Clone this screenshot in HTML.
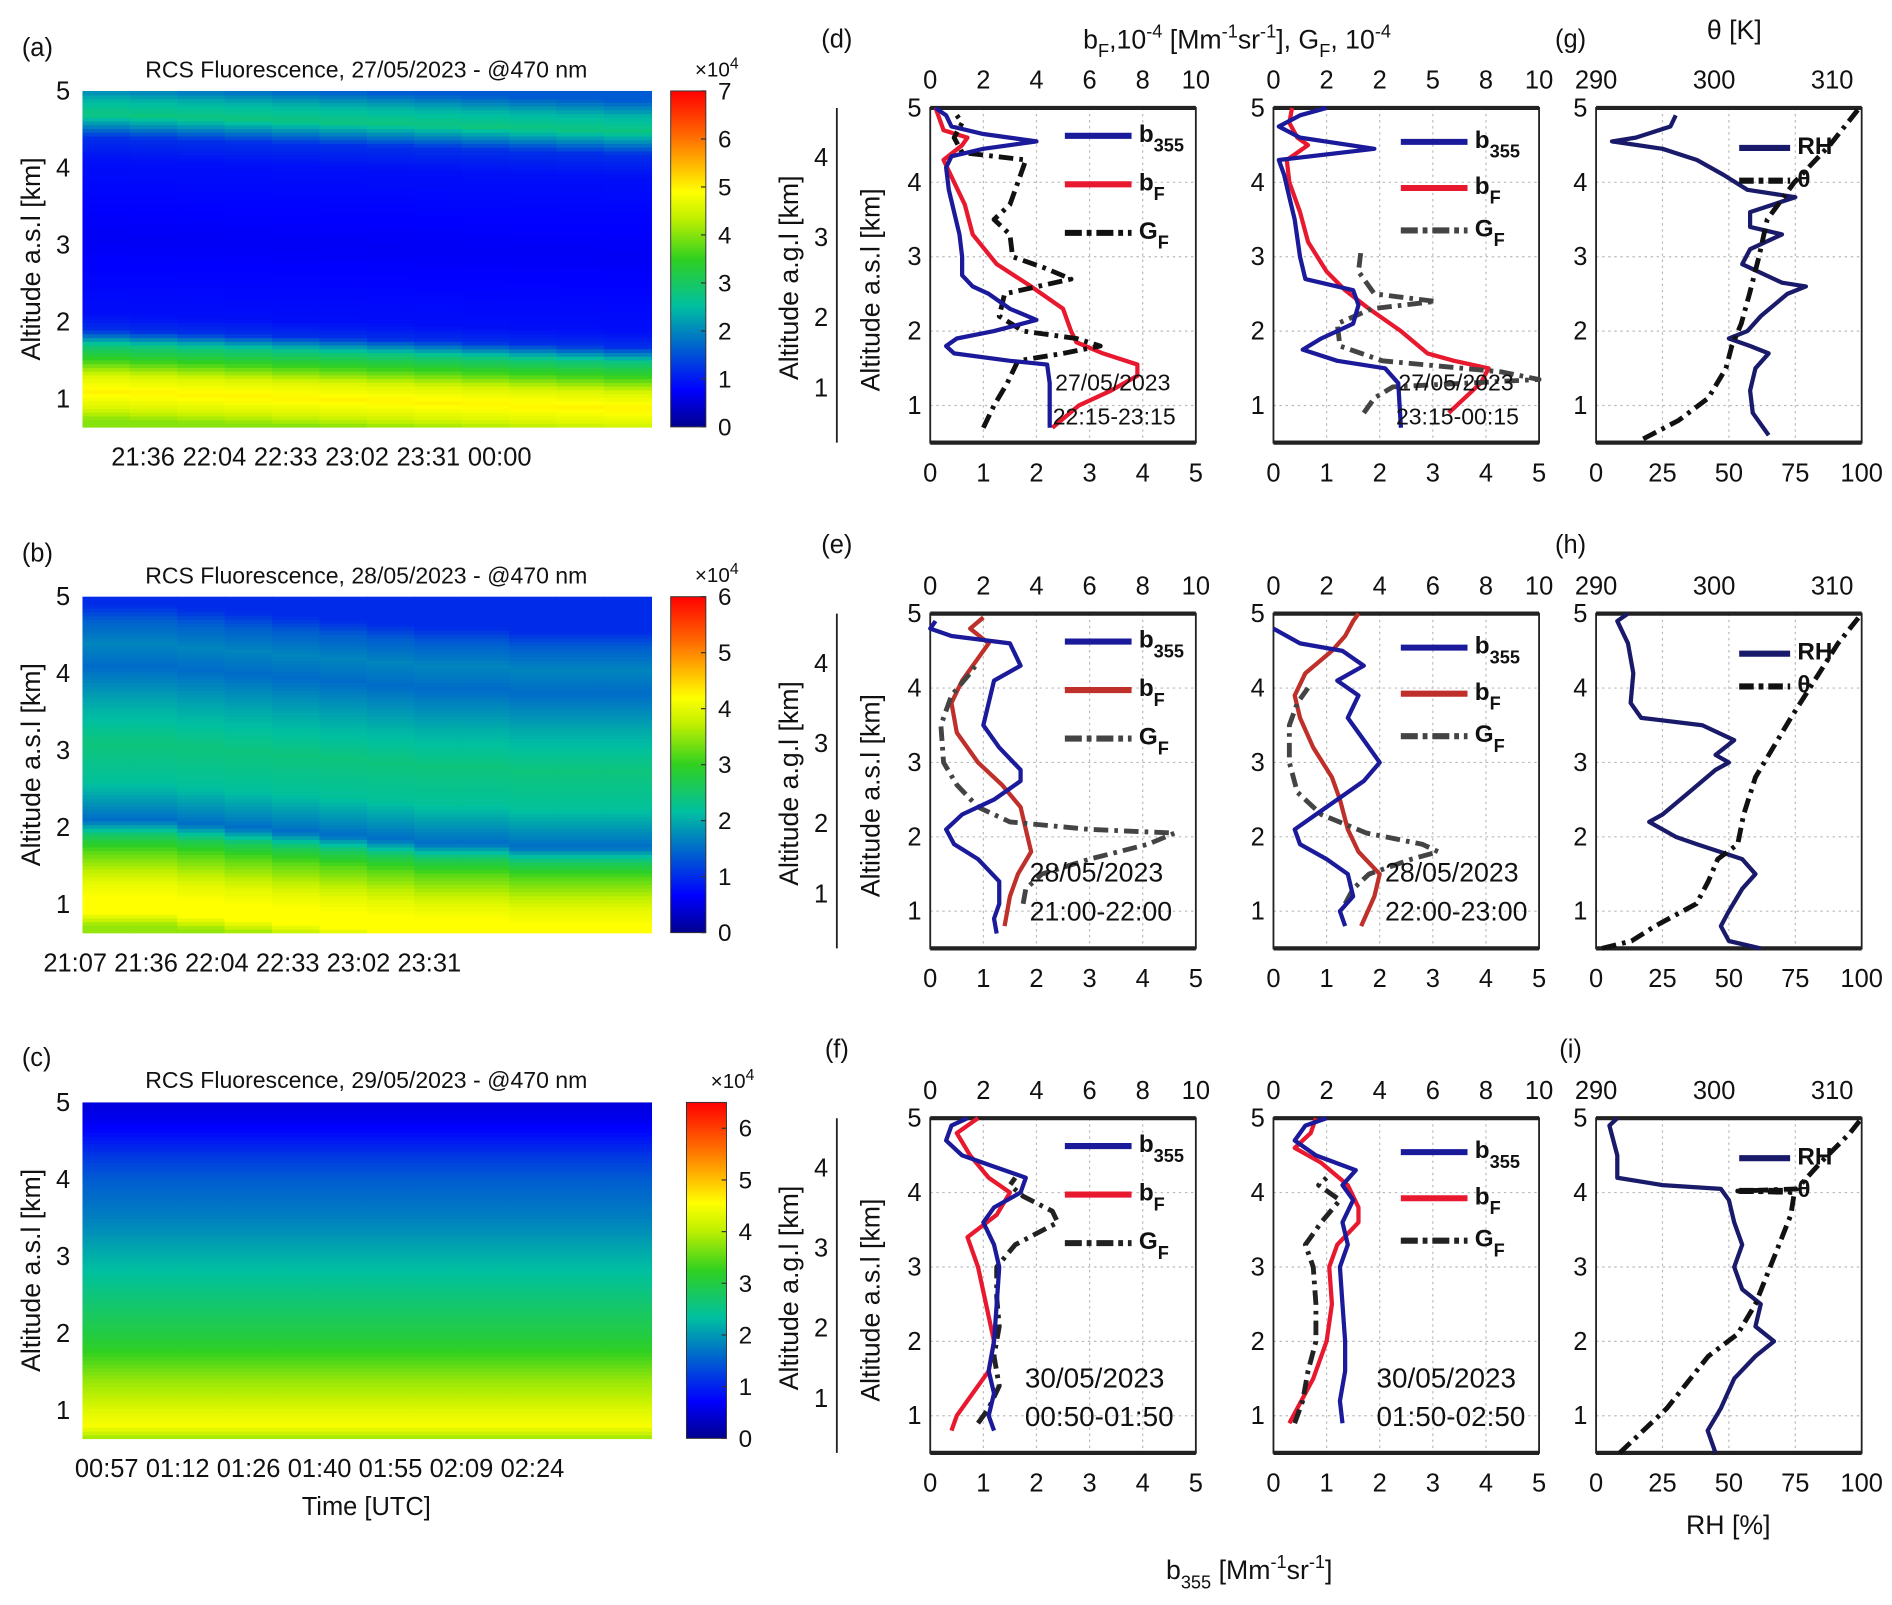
<!DOCTYPE html>
<html><head><meta charset="utf-8">
<style>
html,body{margin:0;padding:0;background:#fff;}
svg{display:block;font-family:"Liberation Sans Narrow","Liberation Sans",sans-serif;}
</style></head>
<body>
<svg id="fig" xmlns="http://www.w3.org/2000/svg" width="1892" height="1605" viewBox="0 0 1560 1323.4" preserveAspectRatio="none">
<defs>
<linearGradient id="jet" x1="0" y1="1" x2="0" y2="0">
<stop offset="0" stop-color="#00008f"/><stop offset="0.11" stop-color="#0000ff"/>
<stop offset="0.36" stop-color="#00c0a0"/><stop offset="0.5" stop-color="#30d020"/>
<stop offset="0.62" stop-color="#c0f000"/><stop offset="0.7" stop-color="#ffff00"/>
<stop offset="0.86" stop-color="#ff7000"/><stop offset="1" stop-color="#ff0000"/>
</linearGradient>
</defs>
</svg>
<script>
// ---------- heatmap data ----------
const hmAlt = [0.64,0.8,1.0,1.2,1.4,1.6,1.8,2.0,2.5,3.0,3.5,4.0,4.3,4.6,4.8,5.0];
const hmA = [4.0,4.6,5.0,4.6,3.6,2.8,1.2,0.9,0.8,0.7,0.8,0.9,1.2,2.8,2.4,1.6];
const hmB = [3.5,4.2,4.2,4.0,3.6,3.2,2.6,1.5,2.2,2.4,2.0,1.5,1.7,1.4,1.0,1.0];
const hmC = [3.8,4.5,4.3,4.0,3.8,3.5,3.2,3.0,2.6,2.2,1.8,1.5,1.2,0.8,0.6,0.5];
const hmShiftA = [0.1,0.08,0.06,0.04,0.02,0,-0.02,-0.04,-0.06,-0.08,-0.1,-0.12];
const hmShiftB = [0.1,0.1,0.05,0,-0.05,-0.1,-0.15,-0.2,-0.2,-0.25,-0.25,-0.25];
const hmShiftC = [0,0,0,0,0,0,0,0,0,0,0,0];
const ticksA = ['21:36','22:04','22:33','23:02','23:31','00:00'];
const ticksB = ['21:07','21:36','22:04','22:33','23:02','23:31'];
const ticksC = ['00:57','01:12','01:26','01:40','01:55','02:09','02:24'];

// ---------- profile data [altitude km, value] ----------
const d1_b355=[[0.7,2.25],[1.0,2.25],[1.3,2.25],[1.55,2.2],[1.6,1.5],[1.7,0.45],[1.8,0.3],[1.9,0.5],[2.0,1.2],[2.15,2.0],[2.3,1.5],[2.5,1.1],[2.6,0.8],[2.75,0.6],[3.0,0.6],[3.3,0.55],[3.6,0.45],[3.9,0.35],[4.2,0.3],[4.35,0.4],[4.45,1.0],[4.55,2.0],[4.65,1.0],[4.75,0.4],[4.9,0.3],[5.0,0.1]];
const d1_bF=[[0.7,4.6],[1.0,5.6],[1.2,6.8],[1.4,7.8],[1.55,7.8],[1.7,6.5],[1.85,5.5],[2.0,5.3],[2.3,5.0],[2.6,3.8],[2.9,2.5],[3.3,1.6],[3.7,1.3],[4.0,0.9],[4.3,0.5],[4.5,1.2],[4.6,1.4],[4.7,0.5],[4.9,0.3],[5.0,0.2]];
const d1_GF=[[0.7,2.0],[1.0,2.4],[1.3,2.9],[1.6,3.3],[1.7,5.0],[1.8,6.4],[1.9,5.5],[2.0,3.5],[2.2,2.6],[2.5,2.8],[2.7,5.3],[2.85,4.3],[3.0,3.1],[3.3,3.0],[3.5,2.4],[3.7,3.0],[4.0,3.3],[4.3,3.6],[4.4,1.2],[4.6,0.9],[4.8,1.2],[4.9,1.0]];
const d2_b355=[[0.7,2.4],[1.3,2.35],[1.5,2.1],[1.6,1.2],[1.75,0.55],[1.9,0.9],[2.1,1.5],[2.35,1.6],[2.55,1.5],[2.7,0.6],[3.0,0.5],[3.5,0.4],[3.8,0.3],[4.1,0.2],[4.3,0.1],[4.45,1.9],[4.6,0.5],[4.75,0.1],[4.9,0.5],[5.0,1.0]];
const d2_bF=[[0.9,6.6],[1.3,7.8],[1.5,8.1],[1.6,6.8],[1.7,5.8],[2.0,4.8],[2.3,3.6],[2.55,2.7],[2.8,2.0],[3.2,1.3],[3.6,1.0],[4.0,0.6],[4.3,0.5],[4.5,1.3],[4.6,0.9],[4.8,0.6],[5.0,0.7]];
const d2_GF=[[0.9,3.4],[1.1,3.8],[1.25,4.5],[1.35,10],[1.45,8.6],[1.6,4.1],[1.8,2.5],[2.1,2.4],[2.3,3.7],[2.4,6.1],[2.5,3.8],[2.8,3.2],[3.1,3.3]];
const g_RH=[[0.6,65],[0.9,59],[1.2,58],[1.5,60],[1.7,65],[1.8,58],[1.9,50],[2.0,57],[2.2,62],[2.5,72],[2.6,79],[2.65,70],[2.9,55],[3.1,58],[3.3,70],[3.4,58],[3.6,58],[3.8,75],[3.9,57],[4.1,48],[4.3,38],[4.45,25],[4.55,6],[4.6,15],[4.75,28],[4.9,30]];
const g_th=[[0.55,294],[0.8,297],[1.1,299.5],[1.5,301],[1.8,301.5],[2.1,302.3],[2.5,303],[3.0,303.8],[3.5,304.5],[4.0,306.8],[4.5,309.8],[5.0,312.3]];
const e1_b355=[[0.7,1.25],[0.9,1.2],[1.1,1.3],[1.4,1.3],[1.55,1.1],[1.7,0.9],[1.9,0.45],[2.1,0.3],[2.3,0.6],[2.5,1.2],[2.75,1.7],[2.9,1.7],[3.2,1.3],[3.5,1.0],[3.8,1.1],[4.1,1.2],[4.3,1.7],[4.6,1.5],[4.7,0.4],[4.8,0.0],[4.9,0.1]];
const e1_bF=[[0.8,2.8],[1.2,3.0],[1.5,3.3],[1.8,3.8],[2.1,3.6],[2.4,3.4],[2.7,2.7],[3.0,1.8],[3.4,1.0],[3.8,0.8],[4.1,1.2],[4.4,1.8],[4.6,2.2],[4.8,1.5],[4.95,2.0]];
const e1_GF=[[1.1,3.5],[1.3,3.6],[1.5,4.2],[1.7,6.0],[1.9,8.2],[2.05,9.2],[2.1,6.0],[2.2,3.0],[2.4,1.8],[2.7,1.0],[3.0,0.5],[3.5,0.4],[3.9,0.8],[4.2,1.5],[4.3,1.7]];
const e2_b355=[[0.8,1.35],[1.0,1.25],[1.2,1.5],[1.5,1.4],[1.7,1.0],[1.9,0.5],[2.1,0.4],[2.3,0.8],[2.5,1.2],[2.75,1.7],[3.0,2.0],[3.3,1.7],[3.6,1.4],[3.9,1.6],[4.1,1.2],[4.3,1.7],[4.5,1.3],[4.6,0.5],[4.8,0.0]];
const e2_bF=[[0.8,3.3],[1.2,3.8],[1.5,4.0],[1.8,3.2],[2.1,2.8],[2.5,2.5],[2.8,2.2],[3.2,1.5],[3.6,1.0],[3.9,0.8],[4.2,1.2],[4.5,2.2],[4.7,2.7],[4.9,3.0],[5.0,3.2]];
const e2_GF=[[1.1,2.7],[1.3,3.0],[1.5,3.6],[1.7,5.2],[1.8,6.2],[1.9,5.6],[2.05,3.5],[2.3,1.8],[2.6,0.9],[3.0,0.6],[3.5,0.6],[3.8,0.9],[4.0,1.3]];
const h_RH=[[0.5,62],[0.6,50],[0.8,47],[1.0,50],[1.3,55],[1.5,60],[1.7,55],[1.9,38],[2.0,30],[2.2,20],[2.3,25],[2.6,35],[2.9,45],[3.0,50],[3.1,45],[3.3,52],[3.5,40],[3.6,17],[3.8,13],[4.2,14],[4.6,12],[4.9,8],[5.0,12]];
const h_th=[[0.5,290.5],[0.6,293],[0.8,295],[1.1,298.5],[1.4,299.5],[1.7,300.3],[1.9,302],[2.3,302.5],[2.8,303.5],[3.2,305],[3.6,306.5],[4.1,308.5],[4.6,310.5],[5.0,312.5]];
const f1_b355=[[0.8,1.2],[1.0,1.1],[1.3,1.2],[1.6,1.1],[2.0,1.2],[2.5,1.25],[3.0,1.3],[3.3,1.2],[3.6,1.0],[3.8,1.2],[4.0,1.7],[4.2,1.8],[4.35,1.2],[4.5,0.6],[4.7,0.3],[4.9,0.4],[5.0,0.7]];
const f1_bF=[[0.8,0.8],[1.0,1.0],[1.3,1.6],[1.6,2.2],[2.0,2.4],[2.5,2.1],[3.0,1.8],[3.4,1.4],[3.7,2.5],[4.0,3.0],[4.2,2.2],[4.5,1.5],[4.8,1.0],[5.0,1.8]];
const f1_GF=[[0.9,1.8],[1.1,2.2],[1.4,2.6],[1.8,2.4],[2.2,2.6],[2.6,2.5],[3.0,2.5],[3.3,3.2],[3.6,4.8],[3.75,4.6],[3.95,3.5],[4.1,3.0],[4.2,3.2]];
const f2_b355=[[0.9,1.3],[1.2,1.25],[1.6,1.35],[2.0,1.35],[2.5,1.3],[3.0,1.25],[3.3,1.4],[3.6,1.3],[3.9,1.5],[4.1,1.3],[4.3,1.55],[4.5,0.8],[4.7,0.4],[4.9,0.6],[5.0,1.0]];
const f2_bF=[[0.9,0.6],[1.1,0.9],[1.5,1.5],[2.0,2.0],[2.5,2.2],[3.0,2.1],[3.3,2.4],[3.6,3.2],[3.8,3.2],[4.1,2.8],[4.4,1.8],[4.6,0.8],[4.8,1.4],[5.0,1.6]];
const f2_GF=[[0.9,0.8],[1.2,1.1],[1.6,1.3],[2.0,1.6],[2.5,1.6],[3.0,1.5],[3.3,1.2],[3.6,1.8],[3.9,2.5],[4.1,1.7],[4.2,2.0]];
const i_RH=[[0.5,45],[0.8,42],[1.1,47],[1.5,52],[1.8,60],[2.0,67],[2.2,60],[2.5,62],[2.7,55],[3.0,52],[3.3,55],[3.6,52],[3.9,50],[4.05,47],[4.1,25],[4.2,8],[4.5,8],[4.9,5],[5.0,8]];
const i_th=[[0.5,292],[0.8,294],[1.1,296],[1.4,297.5],[1.8,299.5],[2.1,302],[2.5,303.5],[2.9,304.5],[3.3,305.5],[3.7,306.5],[4.0,306.8],[4.02,302],[4.05,307],[4.4,309],[4.8,311.5],[5.0,312.5]];

const svg=document.getElementById('fig');
const NS='http://www.w3.org/2000/svg';
function mk(tag,attrs,parent){const e=document.createElementNS(NS,tag);for(const k in attrs)e.setAttribute(k,attrs[k]);(parent||svg).appendChild(e);return e;}
function txt(x,y,s,size,anchor,name,extra){const t=mk('text',Object.assign({x:x,y:y,'font-size':size,'text-anchor':anchor||'middle',fill:'#111'},extra||{}));t.innerHTML=s;


return t;}

function jet(v){
  const stops=[[0,[0,0,143]],[0.11,[0,0,255]],[0.36,[0,192,160]],[0.5,[48,208,32]],[0.62,[192,240,0]],[0.7,[255,255,0]],[0.86,[255,112,0]],[1,[255,0,0]]];
  v=Math.max(0,Math.min(1,v));
  for(let i=1;i<stops.length;i++){if(v<=stops[i][0]){const a=stops[i-1],b=stops[i];const t=(v-a[0])/(b[0]-a[0]);
    return 'rgb('+a[1].map((c,j)=>Math.round(c+(b[1][j]-c)*t)).join(',')+')';}}
  return 'rgb(255,0,0)';
}
function interp(xs,ys,x){if(x<=xs[0])return ys[0];for(let i=1;i<xs.length;i++){if(x<=xs[i]){const t=(x-xs[i-1])/(xs[i]-xs[i-1]);return ys[i-1]+(ys[i]-ys[i-1])*t;}}return ys[ys.length-1];}

function heatmap(o){
  const g=mk('g',{});
  
  
  const x0=68,x1=537,yTop=o.y5,k=(o.y1-o.y5)/4, yBot=o.yBot;
  const ya=a=>o.y5+(5-a)*k;
  const rows=90, cols=o.shift.length;
  const altBot=5-(yBot-yTop)/k;
  for(let c=0;c<cols;c++){
    for(let r=0;r<rows;r++){
      const a0=altBot+(5-altBot)*r/rows, a1=altBot+(5-altBot)*(r+1)/rows;
      const v=interp(hmAlt,o.prof,(a0+a1)/2-o.shift[c]);
      const rc=mk('rect',{x:x0+(x1-x0)*c/cols,y:ya(a1),width:(x1-x0)/cols+0.6,height:ya(a0)-ya(a1)+0.6,fill:jet(v/o.max)},g);
      
      
    }
  }
  for(let a=1;a<=5;a++){txt(52,ya(a)+7,String(a),21,'middle','y-tick-label');}
  txt(0,0,'Altitude a.s.l [km]',22,'middle','y-axis-title',{transform:'translate(33,'+(yTop+yBot)/2+') rotate(-90)'});
  txt(302,o.titleY,o.title,19,'middle','heatmap-title');
  o.ticks.forEach((s,i)=>{txt(o.tx0+i*o.tdx,o.tickY,s,21,'middle','x-tick-label');});
  const cb=mk('rect',{x:o.cbx,y:yTop,width:o.cbw,height:yBot-yTop,fill:'url(#jet)',stroke:'#333','stroke-width':0.8});
  
  
  for(let i=0;i<=o.cbTicks;i++){const y=yBot-(yBot-yTop)*i/o.max;
    mk('line',{x1:o.cbx+o.cbw-4,x2:o.cbx+o.cbw,y1:y,y2:y,stroke:'#333'});
    txt(o.cbx+o.cbw+10,y+7,String(i),20,'start','colorbar-tick-label');}
  txt(o.cbx+38,yTop-12,'×10<tspan baseline-shift="super" font-size="13">4</tspan>',17,'middle','colorbar-exponent');
  txt(18,o.titleY-18,o.label,21,'start','panel-label');
}
heatmap({name:'heatmap-a',label:'(a)',title:'RCS Fluorescence, 27/05/2023 - @470 nm',titleY:64,y5:75,y1:329,yBot:352,prof:hmA,shift:hmShiftA,max:7,cbTicks:7,cbx:553,cbw:29,ticks:ticksA,tx0:118,tdx:58.8,tickY:384});
heatmap({name:'heatmap-b',label:'(b)',title:'RCS Fluorescence, 28/05/2023 - @470 nm',titleY:481,y5:492,y1:746,yBot:769,prof:hmB,shift:hmShiftB,max:6,cbTicks:6,cbx:553,cbw:29,ticks:ticksB,tx0:62,tdx:58.4,tickY:801});
heatmap({name:'heatmap-c',label:'(c)',title:'RCS Fluorescence, 29/05/2023 - @470 nm',titleY:897,y5:909,y1:1163,yBot:1186,prof:hmC,shift:hmShiftC,max:6.5,cbTicks:6,cbx:566,cbw:33,ticks:ticksC,tx0:88,tdx:58.5,tickY:1218});
txt(302,1249,'Time [UTC]',21,'middle','x-axis-title');

// ---------- profile panels ----------
const rows=[{top:89,lab:'d',g:'g'},{top:506,lab:'e',g:'h'},{top:922,lab:'f',g:'i'}];
const cols=[767,1050,1316], W=219, H=276;
function yA(row,a){return row.top+(5-a)*H/4.5;}
function drawLine(pts,row,x0,vmin,vmax,color,width,dash,name){
  const d=pts.map((p,i)=>(i?'L':'M')+(x0+(p[1]-vmin)/(vmax-vmin)*W).toFixed(1)+','+yA(row,p[0]).toFixed(1)).join(' ');
  const e=mk('path',{d:d,fill:'none',stroke:color,'stroke-width':width,'stroke-linejoin':'round'});
  if(dash)e.setAttribute('stroke-dasharray',dash);
  
  
}
function frame(row,x0,xt,name){
  const g=mk('g',{});
  
  
  for(let i=1;i<xt;i++){const x=x0+W*i/xt;mk('line',{x1:x,x2:x,y1:row.top,y2:row.top+H,stroke:'#bbb','stroke-dasharray':'2,3'},g);}
  for(let a=1;a<=4;a++){const y=yA(row,a);mk('line',{x1:x0,x2:x0+W,y1:y,y2:y,stroke:'#bbb','stroke-dasharray':'2,3'},g);}
  mk('rect',{x:x0,y:row.top,width:W,height:H,fill:'none',stroke:'#222','stroke-width':1.5},g);
  mk('line',{x1:x0,x2:x0+W,y1:row.top,y2:row.top,stroke:'#222','stroke-width':3.5},g);
  mk('line',{x1:x0,x2:x0+W,y1:row.top+H,y2:row.top+H,stroke:'#222','stroke-width':3.5},g);
  for(let a=1;a<=5;a++){txt(x0-13,yA(row,a)+7,String(a),21,'middle','y-tick-label');}
}
function legend(x,y,color,dash,label,sub,name,w){
  const l=mk('line',{x1:x,x2:x+(w||55),y1:y,y2:y,stroke:color,'stroke-width':5});
  if(dash)l.setAttribute('stroke-dasharray',dash);
  
  
  txt(x+(w||55)+6,y+5,label+(sub?'<tspan dy="8" font-size="15">'+sub+'</tspan>':''),20,'start',name+'-label',{'font-weight':'bold'});
}
const series=[
 {b:d1_b355,f:d1_bF,G:d1_GF,b2:d2_b355,f2:d2_bF,G2:d2_GF,RH:g_RH,th:g_th,red:'#e8192f',red2:'#e8192f',G1c:'#111',G2c:'#444',date:['27/05/2023','22:15-23:15','23:15-00:15'],dsz:19,dy:[322,350],top2:['0','2','2','5','8','10']},
 {b:e1_b355,f:e1_bF,G:e1_GF,b2:e2_b355,f2:e2_bF,G2:e2_GF,RH:h_RH,th:h_th,red:'#c0302a',red2:'#c0302a',G1c:'#444',G2c:'#444',date:['28/05/2023','21:00-22:00','22:00-23:00'],dsz:22,dy:[727,759],top2:['0','2','4','6','8','10']},
 {b:f1_b355,f:f1_bF,G:f1_GF,b2:f2_b355,f2:f2_bF,G2:f2_GF,RH:i_RH,th:i_th,red:'#e8192f',red2:'#e8192f',G1c:'#222',G2c:'#222',date:['30/05/2023','00:50-01:50','01:50-02:50'],dsz:23,dy:[1144,1176],top2:['0','2','4','6','8','10']}
];
rows.forEach((row,ri)=>{
  const s=series[ri];
  txt(690,row.top-50,'('+row.lab+')',21,'middle','panel-label');
  txt(1295,row.top-50,'('+row.g+')',21,'middle','panel-label');
  mk('line',{x1:690,x2:690,y1:row.top,y2:row.top+H,stroke:'#222','stroke-width':1.5});
  [[4,41],[3,107],[2,173],[1,231]].forEach(p=>{txt(677,row.top+p[1]+7,String(p[0]),21,'middle','outer-y-tick-label');});
  txt(0,0,'Altitude a.g.l [km]',22,'middle','outer-y-axis-title',{transform:'translate(658,'+(row.top+140)+') rotate(-90)'});
  txt(0,0,'Altitude a.s.l [km]',22,'middle','inner-y-axis-title',{transform:'translate(725,'+(row.top+150)+') rotate(-90)'});
  [0,1].forEach(ci=>{
    const x0=cols[ci];
    frame(row,x0,5,'profile-axes-'+row.lab+(ci+1));
    for(let i=0;i<=5;i++){txt(x0+W*i/5,row.top+H+32,String(i),21,'middle','bottom-tick-label');
      txt(x0+W*i/5,row.top-16,ci===0?String(i*2):s.top2[i],21,'middle','top-tick-label');}
    const B=ci?s.b2:s.b,F=ci?s.f2:s.f,G=ci?s.G2:s.G;
    drawLine(F,row,x0,0,10,ci?s.red2:s.red,3.5,null,'bF-line');
    drawLine(G,row,x0,0,10,ci?s.G2c:s.G1c,4,'12,5,3,5','GF-line');
    drawLine(B,row,x0,0,5,'#1a1a9a',3.5,null,'b355-line');
    const lx=ci?x0+105:x0+111, ly=[row.top+23,row.top+63,row.top+103];
    legend(lx,ly[0]+(ci?5:0),'#1a1a9a',null,'b','355','legend-b355');
    legend(lx,ly[1]+(ci?3:0),ci?s.red2:s.red,null,'b','F','legend-bF');
    legend(lx,ly[2]+(ci?-2:0),ci?s.G2c:s.G1c,'14,4,4,4','G','F','legend-GF');
    const dx=ri===0?103:(ri===1?(ci?92:82):(ci?85:78));
    txt(x0+dx,s.dy[0],s.date[0],s.dsz,'start','date-label');
    txt(x0+dx-2*(ri===0),s.dy[1],s.date[ci+1],s.dsz,'start','time-range-label');
  });
  const x0=cols[2];
  frame(row,x0,4,'rh-theta-axes-'+row.g);
  ['0','25','50','75','100'].forEach((v,i)=>txt(x0+W*i/4,row.top+H+32,v,21,'middle','rh-tick-label'));
  [290,300,310].forEach(v=>txt(x0+(v-290)/22.5*W,row.top-16,String(v),21,'middle','theta-tick-label'));
  drawLine(s.RH,row,x0,0,100,'#1a1a6a',3.5,null,'RH-line');
  drawLine(s.th,row,x0,290,312.5,'#111',4,'12,5,3,5','theta-line');
  legend(x0+118,row.top+33,'#1a1a6a',null,'RH','','legend-RH',42);
  legend(x0+118,row.top+60,'#111','12,4,4,4','θ','','legend-theta',42);
});
txt(1020,40,'b<tspan dy="7" font-size="15">F</tspan><tspan dy="-7">,10</tspan><tspan dy="-9" font-size="15">-4</tspan><tspan dy="9"> [Mm</tspan><tspan dy="-9" font-size="15">-1</tspan><tspan dy="9">sr</tspan><tspan dy="-9" font-size="15">-1</tspan><tspan dy="9">], G</tspan><tspan dy="7" font-size="15">F</tspan><tspan dy="-7">, 10</tspan><tspan dy="-9" font-size="15">-4</tspan>',22,'middle','top-axis-title');
txt(1430,32,'θ [K]',22,'middle','theta-axis-title');
txt(1425,1265,'RH [%]',22,'middle','rh-axis-title');
txt(1030,1302,'b<tspan dy="8" font-size="15">355</tspan><tspan dy="-8"> [Mm</tspan><tspan dy="-9" font-size="15">-1</tspan><tspan dy="9">sr</tspan><tspan dy="-9" font-size="15">-1</tspan><tspan dy="9">]</tspan>',22,'middle','bottom-axis-title');
</script>
</body></html>
